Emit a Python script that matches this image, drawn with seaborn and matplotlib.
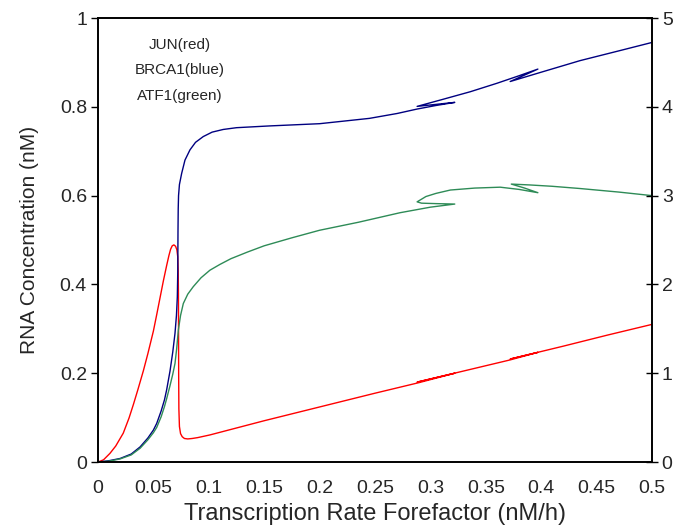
import matplotlib
matplotlib.use("Agg")
import matplotlib.pyplot as plt
import seaborn as sns
import pandas as pd

sns.set_theme(style="white")
plt.rcParams['font.family'] = ['Liberation Sans', 'DejaVu Sans']

# JUN (red) - parametric curve
jun_x = [0.0, 0.005, 0.0108, 0.016, 0.0228, 0.028, 0.032, 0.036, 0.041, 0.045, 0.050,
         0.053, 0.056, 0.059, 0.062, 0.064, 0.0655, 0.067, 0.0685, 0.070, 0.0712, 0.072,
         0.0724, 0.0726, 0.0727, 0.0728, 0.073, 0.0735, 0.0745, 0.076, 0.078, 0.081, 0.085,
         0.090, 0.101, 0.15, 0.2, 0.25, 0.29, 0.322, 0.288, 0.33, 0.372, 0.397, 0.372,
         0.42, 0.46, 0.5]
jun_y = [0.0, 0.005, 0.0195, 0.036, 0.065, 0.099, 0.130, 0.163, 0.206, 0.244, 0.295,
         0.332, 0.370, 0.408, 0.443, 0.465, 0.479, 0.487, 0.489, 0.486, 0.478, 0.462,
         0.43, 0.38, 0.30, 0.20, 0.12, 0.08, 0.064, 0.057, 0.053, 0.052, 0.053,
         0.055, 0.061, 0.093, 0.124, 0.155, 0.179, 0.200, 0.180, 0.205, 0.230, 0.247, 0.232,
         0.261, 0.286, 0.31]

# BRCA1 (blue) - parametric curve
brca1_x = [0.0, 0.01, 0.02, 0.03, 0.038, 0.045, 0.05, 0.053, 0.057, 0.06, 0.062, 0.065,
           0.0675, 0.0695, 0.0708, 0.0716, 0.072, 0.0722, 0.0724, 0.0727, 0.0735, 0.0755,
           0.0785, 0.083, 0.088, 0.095, 0.103, 0.113, 0.125, 0.14, 0.155, 0.2, 0.245, 0.27,
           0.288, 0.305, 0.322, 0.288, 0.31, 0.336, 0.36, 0.38, 0.397, 0.372, 0.40, 0.435,
           0.47, 0.5]
brca1_y = [0.0, 0.003, 0.008, 0.018, 0.034, 0.054, 0.072, 0.087, 0.115, 0.140, 0.163, 0.205,
           0.248, 0.29, 0.33, 0.372, 0.43, 0.52, 0.57, 0.60, 0.625, 0.65,
           0.68, 0.703, 0.72, 0.733, 0.743, 0.749, 0.753, 0.755, 0.757, 0.762, 0.774, 0.785,
           0.795, 0.803, 0.810, 0.801, 0.816, 0.834, 0.853, 0.870, 0.885, 0.857, 0.878, 0.904,
           0.926, 0.945]

# ATF1 (green) - parametric curve
atf1_x = [0.0, 0.01, 0.02, 0.03, 0.038, 0.045, 0.05, 0.053, 0.057, 0.06, 0.062, 0.065,
          0.0675, 0.0695, 0.071, 0.0725, 0.0745, 0.077, 0.081, 0.086, 0.093, 0.101, 0.11,
          0.12, 0.135, 0.15, 0.175, 0.2, 0.235, 0.2726, 0.30, 0.322, 0.305, 0.292, 0.288,
          0.296, 0.305, 0.318, 0.34, 0.363, 0.38, 0.397, 0.385, 0.373, 0.39, 0.41, 0.435,
          0.47, 0.5]
atf1_y = [0.0, 0.002, 0.007, 0.016, 0.031, 0.05, 0.066, 0.078, 0.102, 0.125, 0.143, 0.172,
          0.198, 0.222, 0.255, 0.297, 0.33, 0.357, 0.378, 0.395, 0.415, 0.432, 0.445,
          0.458, 0.473, 0.487, 0.505, 0.522, 0.54, 0.5615, 0.574, 0.581, 0.582, 0.583, 0.586,
          0.598, 0.605, 0.6126, 0.617, 0.619, 0.614, 0.6066, 0.617, 0.626, 0.624, 0.621, 0.616,
          0.608, 0.60]

labels = ["JUN(red)", "BRCA1(blue)", "ATF1(green)"]
colors = ["#ff0000", "#000080", "#2e8b57"]

frames = []
for name, xs, ys in [(labels[0], jun_x, jun_y), (labels[1], brca1_x, brca1_y),
                     (labels[2], atf1_x, atf1_y)]:
    frames.append(pd.DataFrame({"x": xs, "y": ys, "gene": name, "order": range(len(xs))}))
df = pd.concat(frames, ignore_index=True)

fig = plt.figure(figsize=(6.94, 5.27), dpi=100)
ax = fig.add_axes([0.1412, 0.1233, 0.7983, 0.8425])

for name, col in zip(labels, colors):
    sub = df[df["gene"] == name]
    sns.lineplot(data=sub, x="x", y="y", sort=False, estimator=None, color=col,
                 linewidth=1.0, ax=ax, legend=False)

ax.set_xlim(0, 0.5)
ax.set_ylim(0, 1)
ax.set_xticks([0, 0.05, 0.1, 0.15, 0.2, 0.25, 0.3, 0.35, 0.4, 0.45, 0.5])
ax.set_xticklabels(["0", "0.05", "0.1", "0.15", "0.2", "0.25", "0.3", "0.35", "0.4", "0.45", "0.5"])
ax.set_yticks([0, 0.2, 0.4, 0.6, 0.8, 1])
ax.set_yticklabels(["0", "0.2", "0.4", "0.6", "0.8", "1"])
ax.set_xlabel("Transcription Rate Forefactor (nM/h)", fontsize=17, labelpad=4)
ax.set_ylabel("RNA Concentration (nM)", fontsize=15, labelpad=15)
ax.tick_params(axis='x', direction='in', length=5, width=1, labelsize=14, pad=13, color='black')
ax.tick_params(axis='y', direction='out', length=5, width=1, labelsize=14, pad=3, color='black',
               left=True)
for s in ax.spines.values():
    s.set_color('black')
    s.set_linewidth(1.2)

ax2 = ax.twinx()
ax2.set_ylim(0, 5)
ax2.set_yticks([0, 1, 2, 3, 4, 5])
ax2.set_yticklabels(["0", "1", "2", "3", "4", "5"])
ax2.tick_params(axis='y', direction='inout', length=8, width=1, labelsize=14, pad=3,
                color='black', right=True)
ax2.grid(False)
for s in ax2.spines.values():
    s.set_color('black')
    s.set_linewidth(1.2)

for lab, yy in zip(labels, [0.939, 0.883, 0.825]):
    ax.text(0.148, yy, lab, transform=ax.transAxes, ha='center', va='center', fontsize=11)

fig.savefig("out.png", dpi=100)
